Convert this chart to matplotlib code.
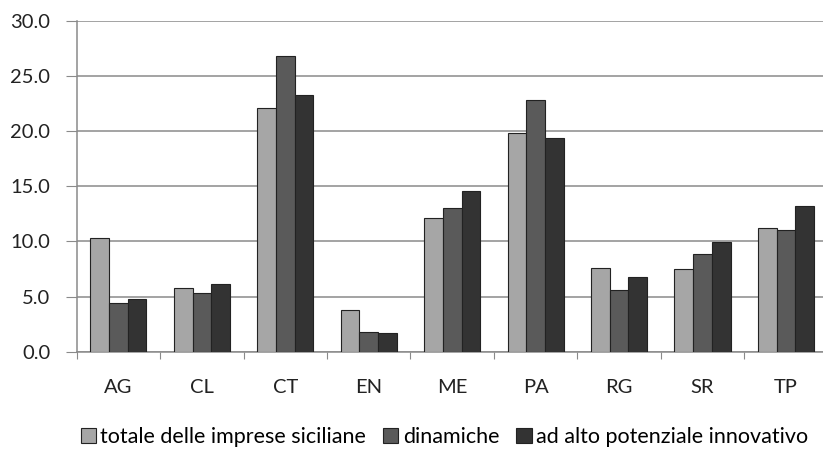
import matplotlib
matplotlib.use("Agg")
import matplotlib.pyplot as plt
import numpy as np
from matplotlib.patches import Patch

categories = ["AG", "CL", "CT", "EN", "ME", "PA", "RG", "SR", "TP"]
totale = [10.3, 5.8, 22.1, 3.8, 12.1, 19.8, 7.6, 7.5, 11.2]
dinamiche = [4.4, 5.3, 26.8, 1.8, 13.0, 22.8, 5.6, 8.9, 11.0]
innovativo = [4.8, 6.1, 23.3, 1.7, 14.6, 19.4, 6.8, 9.9, 13.2]
series_names = ["totale delle imprese siciliane", "dinamiche", "ad alto potenziale innovativo"]
yticks = [0, 5, 10, 15, 20, 25, 30]

colors = ["#a6a6a6", "#5a5a5a", "#333333"]
plt.rcParams['font.family'] = ['Lato', 'DejaVu Sans']

fig = plt.figure(figsize=(8.23, 4.53), dpi=100)
ax = fig.add_axes([0.0932, 0.2236, 0.9125, 0.7307])

x = np.arange(len(categories))
w = 0.224
for i, (vals, c) in enumerate(zip([totale, dinamiche, innovativo], colors)):
    ax.bar(x + (i - 1) * w, vals, width=w, color=c, edgecolor="#222222", linewidth=0.8, zorder=3)

ax.set_xlim(-0.5, len(categories) - 0.5)
ax.set_ylim(0, 30)
ax.set_yticks(yticks)
ax.set_yticklabels([f"{v:.1f}" for v in yticks], fontsize=14.5, color="#222222")
ax.yaxis.grid(True, color="#8a8a8a", linewidth=1.1, zorder=0)
ax.set_axisbelow(True)

ax.set_xticks(np.arange(-0.5, len(categories) + 0.5, 1.0))
ax.set_xticklabels([])
ax.set_xticks(x, minor=True)
ax.set_xticklabels(categories, minor=True, fontsize=14.5, color="#222222")
ax.tick_params(axis="x", which="major", length=5, color="#8a8a8a", direction="out")
ax.tick_params(axis="x", which="minor", length=0, pad=20)
ax.tick_params(axis="y", length=8, color="#8a8a8a", pad=11)

for s in ["top", "right"]:
    ax.spines[s].set_visible(False)
ax.spines["left"].set_color("#8a8a8a")
ax.spines["bottom"].set_color("#8a8a8a")
ax.spines["left"].set_linewidth(1.1)
ax.spines["bottom"].set_linewidth(1.1)

handles = [Patch(facecolor=c, edgecolor="#222222", linewidth=0.8) for c in colors]
fig.legend(handles, series_names, loc="center", bbox_to_anchor=(0.54, 0.035), ncol=3,
           frameon=False, fontsize=15.5, handlelength=0.7, handleheight=0.7,
           handletextpad=0.2, columnspacing=0.8, borderaxespad=0)

fig.savefig("out.png", dpi=100)
